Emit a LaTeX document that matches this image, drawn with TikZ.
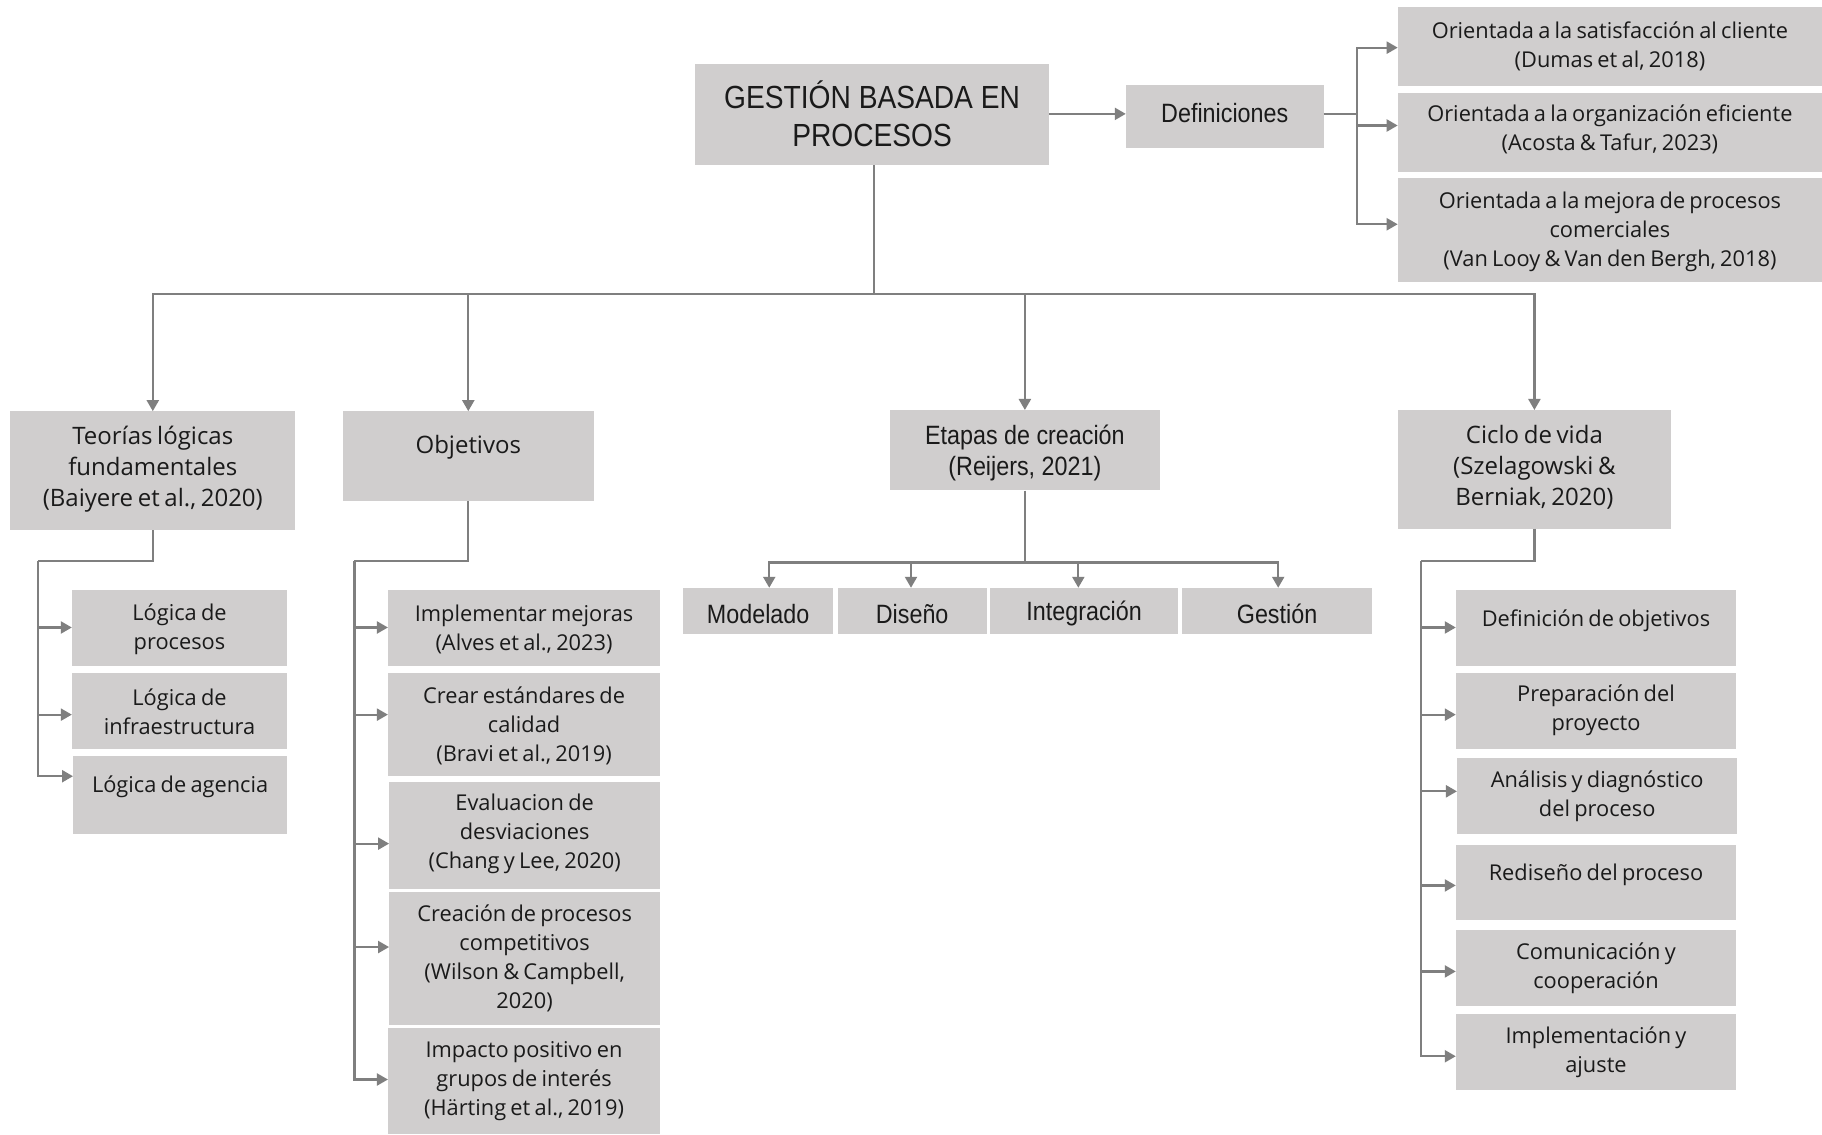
\documentclass[tikz,border=0pt]{standalone}
\usepackage{fontspec}
\setmainfont{Open Sans}[WordSpace=0.75]
\newfontfamily\narrowf[FakeStretch=0.88]{Liberation Sans}
\usetikzlibrary{arrows.meta,fit}
\definecolor{boxgray}{HTML}{D0CECE}
\definecolor{linegray}{HTML}{7F7F7F}
\definecolor{txtc}{HTML}{1A1A1A}
\newcommand{\bx}[8]{%
  \node[box, fit={(#2,#3) (#4,#5)}] (#1) {};
  \node[#7] (#1t) at ({(#2+#4)/2},#6) {#8};
}
\begin{document}
\begin{tikzpicture}[x=1.162pt,y=-1.162pt,
 box/.style={fill=boxgray, draw=none, inner sep=0pt},
 ln/.style={draw=linegray, line width=2.2pt},
 arr/.style={ln, -{Triangle[length=11pt,width=12pt]}},
 tA/.style={text=txtc, align=center, inner sep=0pt, font=\fontsize{21.8}{29}\selectfont},
 tB/.style={text=txtc, align=center, inner sep=0pt, font=\fontsize{24}{31}\selectfont},
 tN/.style={text=txtc, align=center, inner sep=0pt, font=\narrowf\fontsize{26.5}{31}\selectfont},
 tT/.style={text=txtc, align=center, inner sep=0pt, font=\narrowf\fontsize{32}{38}\selectfont}]
\useasboundingbox[fill=white] (0,0) rectangle (1568,976);

\bx{m}{598}{55}{903}{142}{97.5}{tT}{GESTIÓN BASADA EN\\PROCESOS}
\bx{d}{969}{73}{1139}{127}{97}{tN}{Definiciones}
\bx{o1}{1203}{6}{1568}{74}{39.5}{tA}{Orientada a la satisfacción al cliente\\(Dumas et al, 2018)}
\bx{o2}{1203}{80}{1568}{148}{111}{tA}{Orientada a la organización eficiente\\(Acosta \& Tafur, 2023)}
\bx{o3}{1203}{153}{1568}{243}{199.5}{tA}{Orientada a la mejora de procesos\\comerciales\\(Van Looy \& Van den Bergh, 2018)}
\bx{t}{9}{354}{254}{456}{404}{tB}{Teorías lógicas\\fundamentales\\(Baiyere et al., 2020)}
\bx{ob}{295}{354}{511}{431}{385}{tB}{Objetivos}
\bx{e}{766}{353}{998}{422}{389.5}{tN}{Etapas de creación\\(Reijers, 2021)}
\bx{c}{1203}{353}{1438}{455}{402.5}{tB}{Ciclo de vida\\(Szelagowski \&\\Berniak, 2020)}
\bx{t1}{62}{508}{247}{573}{541.5}{tA}{Lógica de\\procesos}
\bx{t2}{62}{579}{247}{645}{612.5}{tA}{Lógica de\\infraestructura}
\bx{t3}{63}{651}{247}{718}{677}{tA}{Lógica de agencia}
\bx{b1}{334}{508}{568}{573}{541.5}{tA}{Implementar mejoras\\(Alves et al., 2023)}
\bx{b2}{334}{579}{568}{668}{625}{tA}{Crear estándares de\\calidad\\(Bravi et al., 2019)}
\bx{b3}{335}{673}{568}{765}{718}{tA}{Evaluacion de\\desviaciones\\(Chang y Lee, 2020)}
\bx{b4}{335}{768}{568}{882}{824.5}{tA}{Creación de procesos\\competitivos\\(Wilson \& Campbell,\\2020)}
\bx{b5}{334}{885}{568}{976}{930}{tA}{Impacto positivo en\\grupos de interés\\(Härting et al., 2019)}
\bx{e1}{588}{506}{717}{546}{528}{tN}{Modelado}
\bx{e2}{721}{506}{849}{546}{528}{tN}{Diseño}
\bx{e3}{852}{506}{1014}{546}{528}{tN}{Integración}
\bx{e4}{1017}{506}{1181}{546}{528}{tN}{Gestión}
\bx{c1}{1253}{508}{1494}{573}{534}{tA}{Definición de objetivos}
\bx{c2}{1253}{579}{1494}{645}{611.5}{tA}{Preparación del\\proyecto}
\bx{c3}{1254}{652}{1495}{718}{685.5}{tA}{Análisis y diagnóstico\\del proceso}
\bx{c4}{1253}{727}{1494}{792}{753}{tA}{Rediseño del proceso}
\bx{c5}{1253}{800}{1494}{866}{833.5}{tA}{Comunicación y\\cooperación}
\bx{c6}{1253}{873}{1494}{938}{905.5}{tA}{Implementación y\\ajuste}

% top
\draw[arr] (m.east|-0,98) -- (d.west|-0,98);
\coordinate (dj) at (1168,98);
\draw[ln] (d.east|-dj) -- (dj);
\draw[arr] (dj) |- (o1.west|-0,41);
\draw[arr] (dj) |- (o2.west|-0,108);
\draw[arr] (dj) |- (o3.west|-0,193);

% trunk
\coordinate (bj) at (752,253);
\draw[ln] (m.south-|bj) -- (bj);
\draw[arr] (bj) -| (t.north);
\draw[arr] (bj) -| (ob.north);
\draw[arr] (bj) -| (e.north);
\draw[arr] (bj) -| (c.north);

% Teorias
\coordinate (tk) at (33,483);
\draw[ln] (t.south) |- (tk);
\draw[arr] (tk) |- (t1.west|-0,540);
\draw[arr] (tk) |- (t2.west|-0,615);
\draw[arr] (tk) |- (t3.west|-0,668);

% Objetivos
\coordinate (ok) at (305,483);
\draw[ln] (ob.south) |- (ok);
\draw[arr] (ok) |- (b1.west|-0,540);
\draw[arr] (ok) |- (b2.west|-0,615);
\draw[arr] (ok) |- (b3.west|-0,726);
\draw[arr] (ok) |- (b4.west|-0,815);
\draw[arr] (ok) |- (b5.west|-0,929);

% Etapas
\coordinate (ek) at (882,484);
\draw[ln] (e.south) -- (ek);
\draw[arr] (ek) -| (662,0|-e1.north);
\draw[arr] (ek) -| (784,0|-e2.north);
\draw[arr] (ek) -| (928,0|-e3.north);
\draw[arr] (ek) -| (1100,0|-e4.north);

% Ciclo
\coordinate (ck) at (1223,483);
\draw[ln] (c.south) |- (ck);
\draw[arr] (ck) |- (c1.west|-0,540);
\draw[arr] (ck) |- (c2.west|-0,615);
\draw[arr] (ck) |- (c3.west|-0,681);
\draw[arr] (ck) |- (c4.west|-0,762);
\draw[arr] (ck) |- (c5.west|-0,836);
\draw[arr] (ck) |- (c6.west|-0,909);
\end{tikzpicture}
\end{document}
